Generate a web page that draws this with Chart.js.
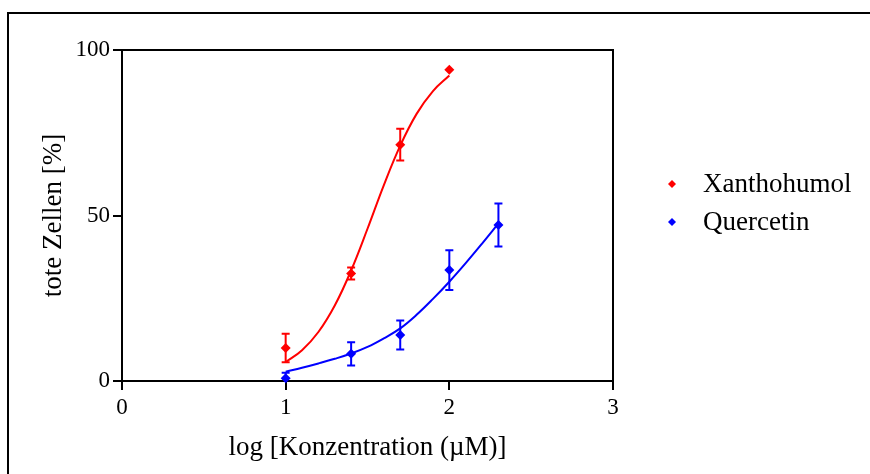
<!DOCTYPE html>
<html>
<head>
<meta charset="utf-8">
<script src="https://cdn.jsdelivr.net/npm/chart.js@4/dist/chart.umd.min.js"></script>
<style>
  html, body { margin: 0; padding: 0; background: #fff; }
  #wrap { width: 870px; height: 474px; }
</style>
</head>
<body>
<div id="wrap"><canvas id="chart" width="870" height="474"></canvas></div>
<script>
// measured points (mean +/- error)
const xanthoX = [1, 1.4, 1.7, 2];
const xanthoY = [10.0, 32.5, 71.4, 94.0];
const xanthoErr = [4.3, 1.8, 4.8, 0];

const quercX = [1, 1.4, 1.7, 2, 2.3];
const quercY = [0.8, 8.2, 13.9, 33.5, 47.1];
const quercErr = [1.7, 3.5, 4.4, 6.0, 6.5];

// fitted curves
const xanthoFitX = [1.0, 1.1, 1.2, 1.3, 1.4, 1.5, 1.6, 1.7, 1.8, 1.9, 2.0];
const xanthoFitY = [5.7, 9.3, 14.8, 22.8, 33.4, 46.0, 59.2, 71.1, 80.7, 87.6, 92.3];
const quercFitX = [1.0, 1.1, 1.2, 1.3, 1.4, 1.5, 1.6, 1.7, 1.8, 1.9, 2.0, 2.1, 2.2, 2.3];
const quercFitY = [2.8, 4.0, 5.3, 6.7, 8.3, 10.3, 12.9, 15.9, 20.0, 24.8, 30.0, 35.6, 41.5, 47.6];

const xTicks = [0, 1, 2, 3];
const yTicks = [0, 50, 100];

const RED = '#ff0000';
const BLUE = '#0000ff';
const SERIF = "'Liberation Serif', 'Times New Roman', serif";

function toPoints(xs, ys) {
  return xs.map((x, i) => ({ x: x, y: ys[i] }));
}

// outer frame of the figure
const framePlugin = {
  id: 'frame',
  beforeDraw(chart) {
    const ctx = chart.ctx;
    ctx.save();
    ctx.fillStyle = '#fff';
    ctx.fillRect(0, 0, chart.width, chart.height);
    ctx.strokeStyle = '#000';
    ctx.lineWidth = 2;
    ctx.strokeRect(8, 13, chart.width + 20, chart.height + 20);
    ctx.restore();
  },
  afterDraw(chart) {
    // close the plot box (top and right)
    const a = chart.chartArea;
    const ctx = chart.ctx;
    ctx.save();
    ctx.strokeStyle = '#000';
    ctx.lineWidth = 2;
    ctx.beginPath();
    ctx.moveTo(a.left, a.top);
    ctx.lineTo(a.right, a.top);
    ctx.lineTo(a.right, a.bottom);
    ctx.stroke();
    ctx.restore();
  }
};

// vertical error bars with caps
const errorBarPlugin = {
  id: 'errorBars',
  afterDatasetsDraw(chart) {
    const ctx = chart.ctx;
    const xs = chart.scales.x, ys = chart.scales.y;
    const a = chart.chartArea;
    ctx.save();
    ctx.beginPath();
    ctx.rect(a.left, a.top - 5, a.right - a.left, a.bottom - a.top + 5);
    ctx.clip();
    chart.data.datasets.forEach(ds => {
      if (!ds.errorBars) return;
      ctx.strokeStyle = ds.borderColor;
      ctx.lineWidth = 2;
      ds.data.forEach((p, i) => {
        const e = ds.errorBars[i];
        if (!e) return;
        const px = xs.getPixelForValue(p.x);
        const top = ys.getPixelForValue(p.y + e);
        const bot = ys.getPixelForValue(p.y - e);
        ctx.beginPath();
        ctx.moveTo(px, top); ctx.lineTo(px, bot);
        ctx.moveTo(px - 4, top); ctx.lineTo(px + 4, top);
        ctx.moveTo(px - 4, bot); ctx.lineTo(px + 4, bot);
        ctx.stroke();
      });
    });
    ctx.restore();
  }
};

// legend to the right of the plot
const legendPlugin = {
  id: 'sideLegend',
  afterDraw(chart) {
    const ctx = chart.ctx;
    const a = chart.chartArea;
    const items = chart.data.datasets.filter(ds => ds.inLegend);
    ctx.save();
    ctx.font = '27px ' + SERIF;
    ctx.textBaseline = 'middle';
    items.forEach((ds, i) => {
      const y = 184 + i * 38;
      const mx = a.right + 59;
      ctx.fillStyle = ds.borderColor;
      ctx.beginPath();
      ctx.moveTo(mx, y - 4); ctx.lineTo(mx + 4, y);
      ctx.lineTo(mx, y + 4); ctx.lineTo(mx - 4, y);
      ctx.closePath();
      ctx.fill();
      ctx.fillStyle = '#000';
      ctx.fillText(ds.label, a.right + 90, y + 1);
    });
    ctx.restore();
  }
};

new Chart(document.getElementById('chart'), {
  type: 'scatter',
  data: {
    datasets: [
      {
        label: 'Xanthohumol fit',
        type: 'line',
        data: toPoints(xanthoFitX, xanthoFitY),
        borderColor: RED,
        borderWidth: 2,
        pointRadius: 0,
        fill: false,
        tension: 0.4
      },
      {
        label: 'Quercetin fit',
        type: 'line',
        data: toPoints(quercFitX, quercFitY),
        borderColor: BLUE,
        borderWidth: 2,
        pointRadius: 0,
        fill: false,
        tension: 0.4
      },
      {
        label: 'Xanthohumol',
        data: toPoints(xanthoX, xanthoY),
        errorBars: xanthoErr,
        inLegend: true,
        borderColor: RED,
        backgroundColor: RED,
        pointStyle: 'rectRot',
        pointRadius: 5,
        borderWidth: 0
      },
      {
        label: 'Quercetin',
        data: toPoints(quercX, quercY),
        errorBars: quercErr,
        inLegend: true,
        borderColor: BLUE,
        backgroundColor: BLUE,
        pointStyle: 'rectRot',
        pointRadius: 5,
        borderWidth: 0
      }
    ]
  },
  options: {
    responsive: false,
    animation: false,
    clip: false,
    layout: { padding: { top: 50, right: 257, left: 0, bottom: 0 } },
    plugins: {
      legend: { display: false },
      tooltip: { enabled: false }
    },
    scales: {
      x: {
        type: 'linear',
        min: 0,
        max: 3,
        afterFit: s => { s.height = 93; },
        afterBuildTicks: s => { s.ticks = xTicks.map(v => ({ value: v })); },
        ticks: { color: '#000', font: { family: SERIF, size: 23 }, padding: 4 },
        grid: { drawOnChartArea: false, drawTicks: true, tickLength: 9, color: '#000', lineWidth: 2 },
        border: { display: true, color: '#000', width: 2 },
        title: {
          display: true,
          text: 'log [Konzentration (µM)]',
          color: '#000',
          font: { family: SERIF, size: 27 },
          padding: { top: 0, bottom: 10 }
        }
      },
      y: {
        type: 'linear',
        min: 0,
        max: 100,
        afterFit: s => { s.width = 122; },
        afterBuildTicks: s => { s.ticks = yTicks.map(v => ({ value: v })); },
        ticks: { color: '#000', font: { family: SERIF, size: 23 }, padding: 3 },
        grid: { drawOnChartArea: false, drawTicks: true, tickLength: 9, color: '#000', lineWidth: 2 },
        border: { display: true, color: '#000', width: 2 },
        title: {
          display: true,
          text: 'tote Zellen [%]',
          color: '#000',
          font: { family: SERIF, size: 27 },
          padding: { top: 38, bottom: 0 }
        }
      }
    }
  },
  plugins: [framePlugin, errorBarPlugin, legendPlugin]
});
</script>
</body>
</html>
